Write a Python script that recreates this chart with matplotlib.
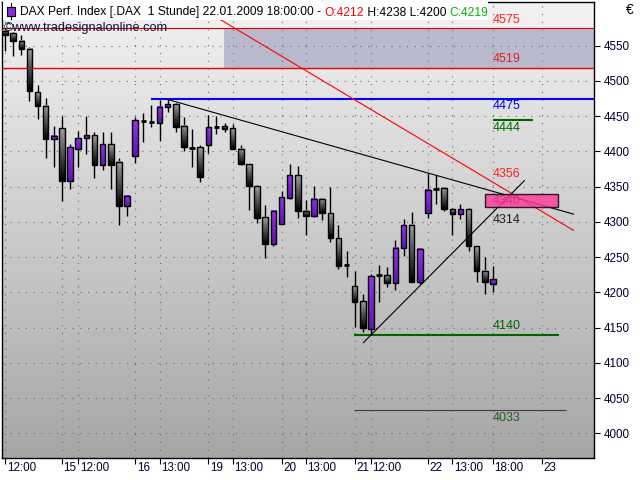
import numpy as np
import matplotlib
matplotlib.use('Agg')
import matplotlib.pyplot as plt
from matplotlib.patches import Rectangle
from matplotlib.colors import LinearSegmentedColormap

plt.rcParams['font.family'] = ['Liberation Sans', 'DejaVu Sans']

# ---------------- data ----------------
opens = [4571, 4568, 4557, 4545, 4484, 4464, 4417, 4433, 4358, 4404,
         4419, 4423, 4381, 4410, 4385, 4322, 4394, 4444, 4442, 4440,
         4463, 4467, 4436, 4405, 4406, 4409, 4435, 4436, 4433, 4404,
         4382, 4351, 4307, 4268, 4297, 4334, 4366, 4316, 4308, 4333,
         4312, 4277, 4239, 4209, 4188, 4148, 4224, 4224, 4213, 4263,
         4295, 4214, 4312, 4346, 4348, 4318, 4311, 4318, 4266, 4231,
         4212]
highs = [4575, 4570, 4565, 4548, 4494, 4476, 4436, 4450, 4411, 4429,
         4450, 4427, 4428, 4428, 4391, 4338, 4449, 4455, 4466, 4473,
         4474, 4468, 4449, 4432, 4409, 4452, 4450, 4440, 4439, 4409,
         4382, 4352, 4324, 4317, 4344, 4382, 4379, 4331, 4351, 4334,
         4350, 4296, 4259, 4230, 4197, 4226, 4239, 4236, 4274, 4304,
         4314, 4261, 4370, 4367, 4350, 4320, 4326, 4319, 4266, 4250,
         4238]
lows = [4543, 4536, 4537, 4471, 4446, 4390, 4378, 4330, 4346, 4378,
        4397, 4362, 4373, 4347, 4295, 4309, 4383, 4414, 4434, 4415,
        4456, 4428, 4400, 4378, 4357, 4398, 4425, 4427, 4403, 4380,
        4317, 4298, 4249, 4266, 4297, 4332, 4306, 4281, 4307, 4302,
        4272, 4233, 4222, 4151, 4144, 4140, 4187, 4208, 4204, 4251,
        4214, 4212, 4305, 4325, 4315, 4282, 4304, 4258, 4215, 4197,
        4200]
closes = [4565, 4557, 4545, 4485, 4465, 4417, 4422, 4358, 4406, 4419,
          4423, 4381, 4410, 4381, 4322, 4337, 4445, 4443, 4442, 4463,
          4467, 4435, 4406, 4405, 4364, 4434, 4435, 4432, 4404, 4382,
          4351, 4306, 4269, 4315, 4335, 4366, 4316, 4308, 4333, 4312,
          4277, 4238, 4239, 4187, 4150, 4223, 4224, 4213, 4263, 4295,
          4214, 4261, 4345, 4346, 4318, 4311, 4318, 4266, 4231, 4214,
          4219]

tick_idx = [0, 7, 9, 16, 19, 25, 28, 34, 37, 43, 45, 52, 55, 60, 66]
tick_lbl = ['12:00', '15', '12:00', '16', '13:00', '19', '13:00', '20',
            '13:00', '21', '12:00', '22', '13:00', '18:00', '23']
y_ticks = list(range(4000, 4551, 50))

band_lo, band_hi = 4519, 4575
res_4519 = 4519
res_4475 = 4475
lvl_4444 = 4444
sup_4140 = 4140
lvl_4033 = 4033
box_lo, box_hi = 4321, 4340

red_line_x, red_line_y = [22.7, 69.9], [4613, 4288]
down_line_x, down_line_y = [19.9, 69.9], [4474, 4311]
up_line_x, up_line_y = [44.06, 63.85], [4128.6, 4358.4]

label_vals = [4575, 4519, 4475, 4444, 4356, 4340, 4314, 4140, 4033]

# ---------------- figure ----------------
W, H = 640, 480
fig = plt.figure(figsize=(6.4, 4.8), dpi=100)
fig.patch.set_facecolor('white')
def fx(px): return px / W
def fy(py): return 1 - py / H

ax = fig.add_axes([fx(2), fy(458), fx(594) - fx(2), fy(1.7) - fy(458)])
XMIN, XMAX = -0.37, 72.42
YMIN, YMAX = 3965, 4612.4

bg_cmap = LinearSegmentedColormap.from_list('bg', ['#f3f3f3', '#a6a6a6'])
ax.imshow(np.linspace(0, 1, 256).reshape(-1, 1), extent=[XMIN, XMAX, YMIN, YMAX],
          cmap=bg_cmap, aspect='auto', zorder=0, interpolation='bilinear')

# shaded zone
ax.add_patch(Rectangle((26.9, band_lo), XMAX - 26.9, band_hi - band_lo,
                       facecolor='#b9b9cd', edgecolor='none', zorder=0.5))

ax.set_xticks(tick_idx)
ax.set_yticks(y_ticks)
ax.grid(True, color='#6a6a6a', linestyle=(0, (1, 6)), linewidth=0.8, zorder=0.8)
ax.set_axisbelow(True)

# level lines
ax.hlines(band_hi, XMIN, XMAX, color='#e00000', lw=0.8, zorder=2)
ax.hlines(res_4519, XMIN, XMAX, color='#ff0000', lw=1.0, zorder=2)
ax.hlines(res_4475, 18, XMAX, color='#0000ff', lw=1.5, zorder=2)
ax.hlines(lvl_4444, 60, 64.9, color='#006400', lw=1.5, zorder=2)
ax.hlines(sup_4140, 42.9, 68.1, color='#006400', lw=1.5, zorder=2)
ax.hlines(lvl_4033, 42.9, 69.0, color='#404040', lw=0.8, zorder=2)

# candles
down_cmap = LinearSegmentedColormap.from_list('dn', ['#9c9c9c', '#000000'])
up_cmap = LinearSegmentedColormap.from_list('up', ['#9334ea', '#6414b4'])
grad = np.linspace(0, 1, 32).reshape(-1, 1)
bw = 0.68
for i, (o, h, l, c) in enumerate(zip(opens, highs, lows, closes)):
    ax.vlines(i, l, h, color='black', lw=1.0, zorder=3)
    lo, hi = min(o, c), max(o, c)
    if hi - lo < 1.5:
        ax.hlines((o + c) / 2, i - bw / 2, i + bw / 2, color='black', lw=2.0, zorder=3.2)
        continue
    cm = up_cmap if c > o else down_cmap
    ax.imshow(grad, extent=[i - bw / 2, i + bw / 2, lo, hi], cmap=cm, aspect='auto',
              zorder=3.1, interpolation='bilinear')
    ax.add_patch(Rectangle((i - bw / 2, lo), bw, hi - lo, facecolor='none',
                           edgecolor='black', lw=1.0, zorder=3.2))

# trend lines
ax.plot(red_line_x, red_line_y, color='#ff0000', lw=0.8, zorder=4)
ax.plot(down_line_x, down_line_y, color='black', lw=0.8, zorder=4)
ax.plot(up_line_x, up_line_y, color='black', lw=0.8, zorder=4)

# level labels
lab_style = {4575: ('#ff2020', 6), 4519: ('#e02020', 6), 4475: ('#0000ff', -5.5),
             4444: ('#006400', -5.5), 4356: ('#ff2020', 6), 4340: ('#202020', -5.5),
             4314: ('#202020', -5.5), 4140: ('#006400', 6), 4033: ('#206020', -5.5)}
for v in label_vals:
    col, off = lab_style[v]
    ax.annotate(str(v), xy=(60, v), xytext=(0, off), textcoords='offset points',
                ha='left', va='center', fontsize=9, color=col, zorder=5)

# pink box
ax.add_patch(Rectangle((59.0, box_lo), 9.0, box_hi - box_lo, facecolor='#ff3a9c',
                       alpha=0.82, edgecolor='black', lw=1.0, zorder=6))

ax.set_xlim(XMIN, XMAX)
ax.set_ylim(YMIN, YMAX)

# axes styling
for s in ax.spines.values():
    s.set_color('black')
    s.set_linewidth(1.0)
ax.yaxis.tick_right()
ax.tick_params(axis='y', direction='out', length=4, pad=3, labelsize=8.4,
               labelcolor='#000030', color='black', width=0.8)
ax.tick_params(axis='x', direction='out', length=4, width=0.8, labelbottom=False)
for t, lbl in zip(tick_idx, tick_lbl):
    ax.annotate(lbl, xy=(t, 0), xycoords=('data', 'axes fraction'),
                xytext=(1.2, -3.0), textcoords='offset points', ha='left', va='top',
                fontsize=8.4, color='#000030', annotation_clip=False)

# watermark
fig.text(fx(4), fy(28), '©www.tradesignalonline.com', fontsize=9.2, color='#101040',
         va='center', ha='left', zorder=9)
fig.text(fx(626), fy(10), '€', fontsize=10, color='black', va='center', ha='left')

# title box
fig.add_artist(Rectangle((fx(2.5), fy(20)), fx(488) - fx(2.5), 20 / H,
                         transform=fig.transFigure, facecolor='white',
                         edgecolor='none', zorder=10))
fig.add_artist(plt.Line2D([fx(11), fx(11)], [fy(3), fy(19)], transform=fig.transFigure,
                          color='black', lw=0.8, zorder=11))
fig.add_artist(Rectangle((fx(7), fy(15.5)), 8 / W, 8 / H, transform=fig.transFigure,
                         facecolor='#8a2be2', edgecolor='black', lw=0.8, zorder=12))

parts = [("DAX Perf. Index [.DAX  1 Stunde] 22.01.2009 18:00:00 - ", 'black'),
         (f"O:{opens[-1]}", '#ff0000'),
         (f" H:{highs[-1]} L:{lows[-1]} ", 'black'),
         (f"C:{closes[-1]}", '#00b400')]
tfs = 8.65
prev = fig.text(fx(20), fy(15.5), parts[0][0], fontsize=tfs, color=parts[0][1],
                va='baseline', ha='left', zorder=13)
for txt, col in parts[1:]:
    prev = fig.add_artist(plt.Annotation(txt, xy=(1, 0), xycoords=prev, va='bottom',
                                         ha='left', fontsize=tfs, color=col, zorder=13))

fig.savefig('out.png', dpi=100, facecolor='white')
